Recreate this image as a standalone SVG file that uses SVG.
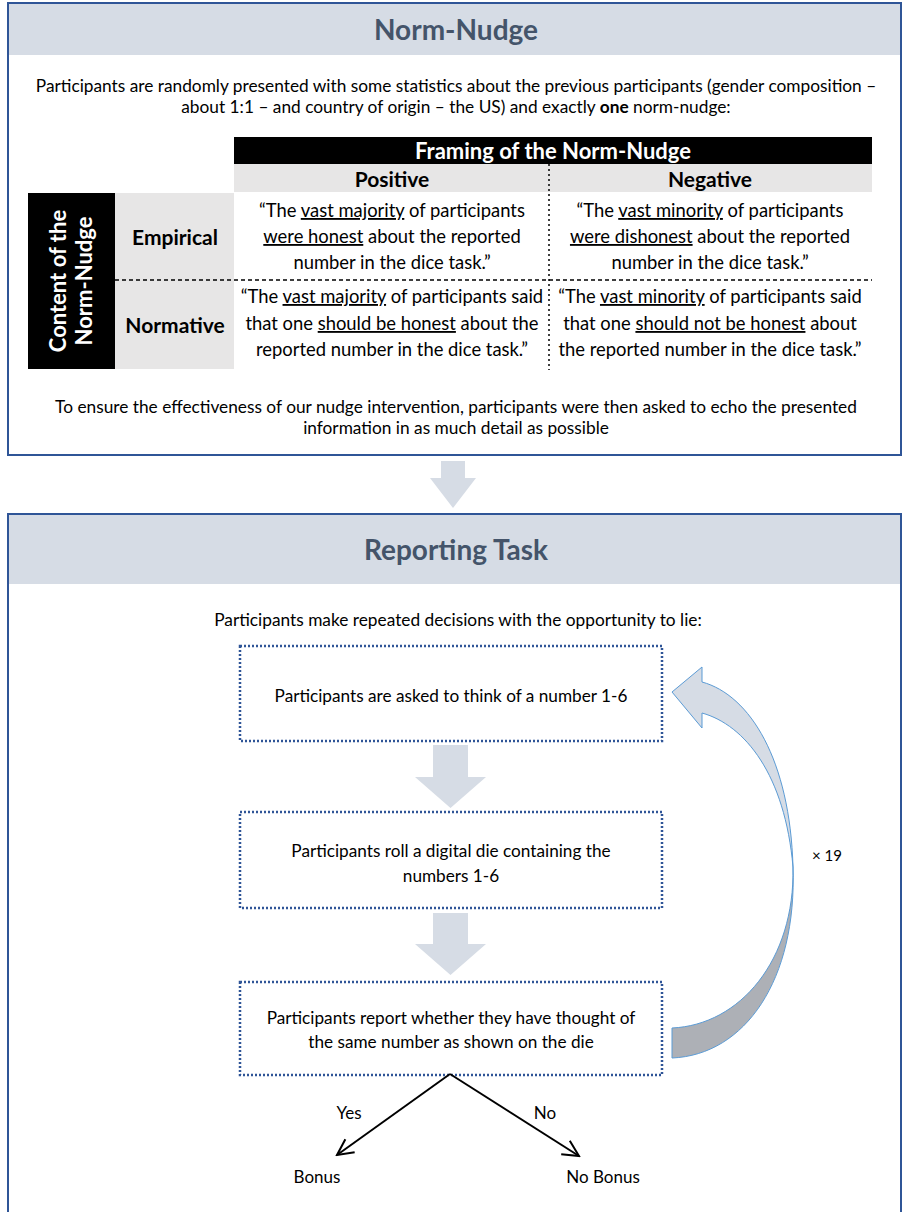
<svg xmlns="http://www.w3.org/2000/svg" width="904" height="1212" viewBox="0 0 904 1212">
<style>
text{font-family:Lato,"Open Sans","Liberation Sans",sans-serif;fill:#000}
.title{font-size:28px;font-weight:bold;fill:#44546A;text-anchor:middle}
.body{font-size:17.3px;text-anchor:middle}
.cell{font-size:18.4px;text-anchor:middle}
.bx{font-size:17.2px;text-anchor:middle}
.hd{font-size:21px;font-weight:bold;text-anchor:middle}
.fr{font-size:22px}
.wh{fill:#fff}
.u{text-decoration:underline}
.panel{fill:#fff;stroke:#2F5597;stroke-width:2}
.band{fill:#D6DCE5}
.box{fill:#fff;stroke:#2F5597;stroke-width:2.5;stroke-dasharray:2 2}
.bigarrow{fill:#D6DCE5}
.lbl{font-size:17px;text-anchor:middle}
</style>
<defs>
<marker id="open" viewBox="0 0 20 20" refX="18" refY="10" markerWidth="20" markerHeight="20" markerUnits="userSpaceOnUse" orient="auto">
<path d="M2,2 L18,10 L2,18" fill="none" stroke="#000" stroke-width="2"/>
</marker>
</defs>

<g id="norm-nudge">
<rect class="panel" x="8" y="3" width="893" height="452"/>
<rect class="band" x="9" y="4" width="891" height="51"/>
<text class="title" x="456" y="40">Norm-Nudge</text>
<text class="body" x="456" y="92">Participants are randomly presented with some statistics about the previous participants (gender composition –</text>
<text class="body" x="456" y="113">about 1:1 – and country of origin – the US) and exactly <tspan font-weight="bold">one</tspan> norm-nudge:</text>

<rect x="234" y="137" width="638" height="27" fill="#000"/>
<text class="hd fr wh" x="553" y="159">Framing of the Norm-Nudge</text>
<rect x="234" y="164" width="638" height="28" fill="#E7E6E6"/>
<text class="hd" x="392" y="187">Positive</text>
<text class="hd" x="710" y="187">Negative</text>

<rect x="28" y="193" width="87" height="176" fill="#000"/>
<g transform="translate(71,281) rotate(-90)">
<text class="hd fr wh" x="0" y="-5">Content of the</text>
<text class="hd fr wh" x="0" y="21">Norm-Nudge</text>
</g>
<rect x="115" y="193" width="119" height="176" fill="#E7E6E6"/>
<text class="hd" x="175" y="245">Empirical</text>
<text class="hd" x="175" y="333">Normative</text>

<line x1="549" y1="164" x2="549" y2="370" stroke="#000" stroke-width="1.5" stroke-dasharray="2 3"/>
<line x1="115" y1="280" x2="872" y2="280" stroke="#000" stroke-width="1.5" stroke-dasharray="4 3"/>

<text class="cell" x="392" y="217">“The <tspan class="u">vast majority</tspan> of participants</text>
<text class="cell" x="392" y="243"><tspan class="u">were honest</tspan> about the reported</text>
<text class="cell" x="392" y="269">number in the dice task.”</text>
<text class="cell" x="710" y="217">“The <tspan class="u">vast minority</tspan> of participants</text>
<text class="cell" x="710" y="243"><tspan class="u">were dishonest</tspan> about the reported</text>
<text class="cell" x="710" y="269">number in the dice task.”</text>
<text class="cell" x="392" y="303">“The <tspan class="u">vast majority</tspan> of participants said</text>
<text class="cell" x="392" y="330">that one <tspan class="u">should be honest</tspan> about the</text>
<text class="cell" x="392" y="356">reported number in the dice task.”</text>
<text class="cell" x="710" y="303">“The <tspan class="u">vast minority</tspan> of participants said</text>
<text class="cell" x="710" y="330">that one <tspan class="u">should not be honest</tspan> about</text>
<text class="cell" x="710" y="356">the reported number in the dice task.”</text>

<text class="body" x="456" y="413">To ensure the effectiveness of our nudge intervention, participants were then asked to echo the presented</text>
<text class="body" x="456" y="434">information in as much detail as possible</text>
</g>

<g id="reporting-task">
<rect class="panel" x="8" y="514" width="893" height="710"/>
<rect class="band" x="9" y="515" width="891" height="69"/>
<text class="title" x="456" y="560">Reporting Task</text>
<text class="body" x="458" y="626">Participants make repeated decisions with the opportunity to lie:</text>
</g>

<g id="step-think">
<rect class="box" x="240" y="646" width="422" height="95"/>
<text class="bx" x="451" y="702">Participants are asked to think of a number 1-6</text>
</g>
<g id="step-roll">
<rect class="box" x="240" y="812" width="422" height="96"/>
<text class="bx" x="451" y="857">Participants roll a digital die containing the</text>
<text class="bx" x="451" y="882">numbers 1-6</text>
</g>
<g id="step-report">
<rect class="box" x="240" y="982" width="422" height="93"/>
<text class="bx" x="451" y="1024">Participants report whether they have thought of</text>
<text class="bx" x="451" y="1048">the same number as shown on the die</text>
</g>
<g id="bonus"><text class="lbl" x="317" y="1183">Bonus</text></g>
<g id="no-bonus"><text class="lbl" x="603" y="1183">No Bonus</text></g>

<g id="connectors">
<path class="bigarrow" d="M441,461 H465 V478 H476 L453,508 L430,478 H441 Z"/>
<path class="bigarrow" d="M433,745 H468 V777 H486 L450.5,808 L415,777 H433 Z"/>
<path class="bigarrow" d="M433,913 H468 V944 H486 L450.5,975 L415,944 H433 Z"/>
<path d="M702,682 L702,667 L672,692 L702,728 L702,713 C745,725 785,775 793,867 C790,760 750,695 702,682 Z" fill="#D6DCE5" stroke="#5B9BD5" stroke-width="1"/>
<path d="M793,867 C795,960 740,1025 672,1028 L672,1058 C745,1055 797,980 793,867 Z" fill="#ADB0B6" stroke="#5B9BD5" stroke-width="1"/>
<text x="812" y="861" font-size="15">× 19</text>
<line x1="450" y1="1074" x2="337" y2="1155" stroke="#000" stroke-width="2" marker-end="url(#open)"/>
<line x1="450" y1="1074" x2="579" y2="1156" stroke="#000" stroke-width="2" marker-end="url(#open)"/>
<text class="lbl" x="349" y="1119">Yes</text>
<text class="lbl" x="545" y="1119">No</text>
</g>
</svg>
